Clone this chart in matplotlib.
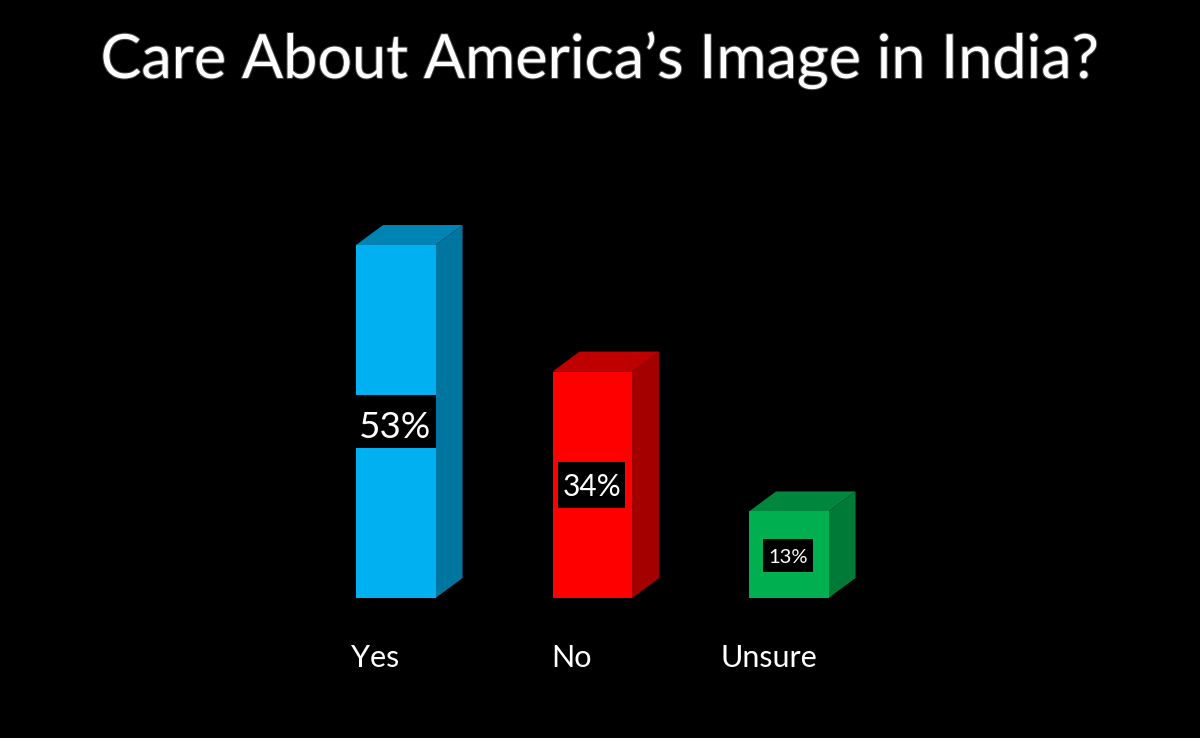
import numpy as np
import matplotlib.pyplot as plt
from matplotlib.patches import Polygon, Rectangle
import matplotlib.patheffects as pe

categories = ['Yes', 'No', 'Unsure']
values = [53, 34, 13]
value_labels = ['53%', '34%', '13%']
title = 'Care About America\u2019s Image in India?'

front_colors = ['#00B0F0', '#FF0000', '#00B050']
top_colors = ['#0084B4', '#BF0000', '#00873D']
side_colors = ['#0075A0', '#A50000', '#007A37']

plt.rcParams['font.family'] = ['Lato', 'DejaVu Sans']

# scales worked out from the bars in the picture, in pixels
W, H = 1200, 738
px_x = 196.5   # px per category
px_y = 6.66    # px per percent
x0, y0 = 395.8, 598
bar_w = 79.5 / px_x
dx, dy = 27 / px_x, 20 / px_y

fig = plt.figure(figsize=(W / 100, H / 100), dpi=100, facecolor='black')
ax = fig.add_axes([0, 0, 1, 1])
ax.set_facecolor('black')
ax.set_xlim(-x0 / px_x, (W - x0) / px_x)
ax.set_ylim(-(H - y0) / px_y, y0 / px_y)
ax.axis('off')

# label boxes: width px, height px, centre height px above the base
box_w = [79.5, 67, 50]
box_h = [53, 46, 33]
box_c = [176.5, 113, 42.5]
box_dx = [0, -1, -1]
label_size = [26.5, 21.5, 14.5]
label_drop = [5.5, 2, 2]
label_dx = [-1, 0, -1]
cat_dx = [-20.5, -20.5, -20]

xs = np.arange(len(categories))
ax.bar(xs, values, width=bar_w, color=front_colors, linewidth=0, zorder=3)

for i, v in enumerate(values):
    l, r = i - bar_w / 2, i + bar_w / 2
    ax.add_patch(Polygon([(l, v), (r, v), (r + dx, v + dy), (l + dx, v + dy)],
                         closed=True, fc=top_colors[i], ec='none', zorder=2))
    ax.add_patch(Polygon([(r, 0), (r + dx, dy), (r + dx, v + dy), (r, v)],
                         closed=True, fc=side_colors[i], ec='none', zorder=2))
    bw, bh, bc = box_w[i] / px_x, box_h[i] / px_y, box_c[i] / px_y
    ax.add_patch(Rectangle((i + box_dx[i] / px_x - 0.5 * bw, bc - 0.5 * bh), bw, bh,
                           fc='black', ec='none', zorder=4))
    ax.text(i + label_dx[i] / px_x, bc - label_drop[i] / px_y, value_labels[i], color='white',
            fontsize=label_size[i], ha='center', va='center', zorder=5)
    ax.text(i + cat_dx[i] / px_x, -60 / px_y, categories[i], color='white', fontsize=22,
            ha='center', va='center')

fig.text(0.5, 1 - 60 / H, title, color='white', fontsize=44, ha='center', va='center',
         path_effects=[pe.withStroke(linewidth=1.5, foreground='#444444')])

fig.savefig('out.png', dpi=100, facecolor='black')
